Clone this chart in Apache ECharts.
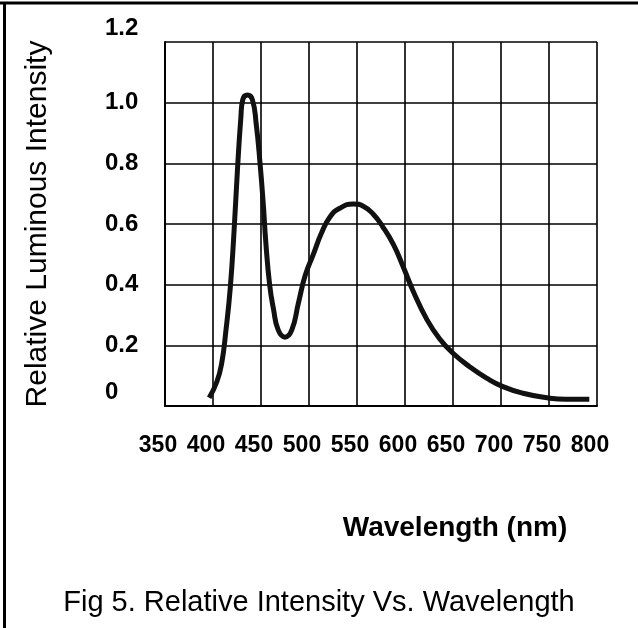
<!DOCTYPE html>
<html lang="en">
<head>
    <meta charset="utf-8">
    <script type="text/javascript" src="https://cdn.jsdelivr.net/npm/echarts@6/dist/echarts.min.js"></script>
</head>
<body style="height: 100%; margin: 0">
<div id="container" style="width:638px;height:628px"></div>

<script type="text/javascript">
    // wavelength (nm) and relative intensity
    var wavelength = [396, 404, 409, 413.5, 418, 422, 425.5, 429, 431, 436, 441, 445, 449, 452.5, 455, 459, 463, 468, 475,
        482, 489, 496, 504.5, 513, 522, 532, 546, 557, 567, 577, 588, 598, 609, 623, 636, 650, 668, 685, 702, 723, 748, 768, 792];
    var intensity = [0.027, 0.08, 0.14, 0.25, 0.39, 0.58, 0.78, 0.95, 1.01, 1.025, 1.01, 0.93, 0.80, 0.66, 0.54, 0.40, 0.32, 0.25, 0.227,
        0.25, 0.34, 0.43, 0.50, 0.57, 0.624, 0.652, 0.666, 0.658, 0.632, 0.59, 0.532, 0.46, 0.375, 0.284, 0.222, 0.174, 0.128, 0.092, 0.064, 0.042, 0.027, 0.022, 0.022];
    var xTicks = [350, 400, 450, 500, 550, 600, 650, 700, 750, 800];
    var yTicks = [0, 0.2, 0.4, 0.6, 0.8, 1.0, 1.2];

    var dom = document.getElementById("container");
    var myChart = echarts.init(dom);
    var font = 'Liberation Sans, Arial, sans-serif';

    var points = wavelength.map(function (w, i) {
        return [w, intensity[i]];
    });

    var option = {
        animation: false,
        backgroundColor: '#fff',
        title: {
            text: 'Fig 5. Relative Intensity Vs. Wavelength',
            left: 'center',
            top: 583,
            textStyle: {color: '#000', fontFamily: font, fontWeight: 'normal', fontSize: 29}
        },
        graphic: [
            {type: 'line', shape: {x1: 0, y1: 3, x2: 638, y2: 3}, style: {stroke: '#000', lineWidth: 3}},
            {type: 'line', shape: {x1: 4.5, y1: 2, x2: 4.5, y2: 628}, style: {stroke: '#000', lineWidth: 3}}
        ],
        grid: {left: 165, right: 41, top: 42, bottom: 222},
        xAxis: {
            type: 'value',
            min: xTicks[0],
            max: xTicks[xTicks.length - 1],
            interval: 50,
            name: 'Wavelength (nm)',
            nameLocation: 'middle',
            nameGap: 108,
            nameTextStyle: {color: '#000', fontFamily: font, fontWeight: 'bold', fontSize: 28, padding: [0, 0, 0, 148]},
            axisLine: {lineStyle: {color: '#000', width: 2}},
            axisTick: {show: false},
            splitLine: {lineStyle: {color: '#000', width: 1.6}},
            axisLabel: {
                margin: 28,
                color: '#000',
                fontFamily: font,
                fontWeight: 'bold',
                fontSize: 23,
                padding: [0, 14, 0, 0]
            }
        },
        yAxis: {
            type: 'value',
            min: 0,
            max: yTicks[yTicks.length - 1],
            interval: 0.2,
            name: 'Relative Luminous Intensity',
            nameLocation: 'middle',
            nameGap: 112,
            nameTextStyle: {color: '#000', fontFamily: font, fontSize: 30},
            axisLine: {show: true, lineStyle: {color: '#000', width: 2}},
            axisTick: {show: false},
            splitLine: {lineStyle: {color: '#000', width: 1.6}},
            axisLabel: {
                margin: 60,
                align: 'left',
                color: '#000',
                fontFamily: font,
                fontWeight: 'bold',
                fontSize: 24,
                formatter: function (v) {
                    var s = v === 0 ? '0' : v.toFixed(1);
                    if (v === 0 || v === 1.2) return '{up|' + s + '}';
                    return s;
                },
                rich: {
                    up: {fontFamily: font, fontWeight: 'bold', fontSize: 24, color: '#000', padding: [0, 0, 27, 0]}
                }
            }
        },
        series: [{
            type: 'line',
            data: points,
            smooth: 0.5,
            showSymbol: false,
            lineStyle: {color: '#111', width: 5}
        }]
    };

    myChart.setOption(option);
</script>
</body>
</html>
